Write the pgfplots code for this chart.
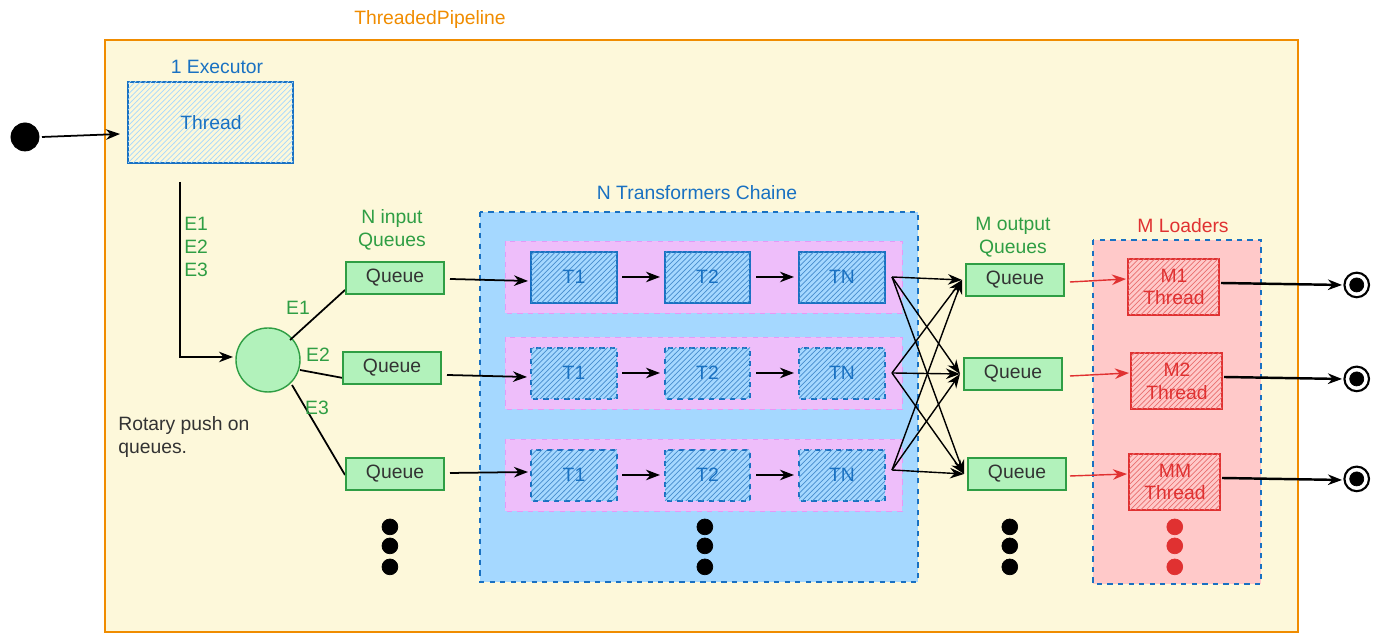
\documentclass[border=0pt]{standalone}
\usepackage{pgfplots}
\pgfplotsset{compat=1.18}
\usepackage{fontspec}
\setmainfont{Liberation Sans}
\usetikzlibrary{patterns,arrows.meta}
\definecolor{bgy}{HTML}{FDF8DA}
\definecolor{org}{HTML}{F08C00}
\definecolor{blu}{HTML}{1971C2}
\definecolor{lblu}{HTML}{A5D8FF}
\definecolor{grn}{HTML}{2F9E44}
\definecolor{lgrn}{HTML}{B2F2BB}
\definecolor{pnk}{HTML}{E599F7}
\definecolor{lpnk}{HTML}{EEBEFA}
\definecolor{red1}{HTML}{E03131}
\definecolor{lred}{HTML}{FFC9C9}
\begin{document}
\begin{tikzpicture}[font=\fontsize{11}{13}\selectfont, >={Stealth[length=8pt]}]
\begin{scope}[x=0.02cm, y=-0.02cm, yshift=12.88cm]
\path (0,0) rectangle (1384,644);
\draw[org, line width=1.2pt, fill=bgy] (105,40) rectangle (1298,632);
\node[org] at (430,20) {ThreadedPipeline};
\node[blu] at (217,67) {1 Executor};
\draw[blu, line width=1pt, fill=bgy] (128,82) rectangle (293,163);
\fill[pattern=north east lines, pattern color=lblu] (128,82) rectangle (293,163);
\node[blu] at (211,123) {Thread};
\draw[black, line width=1pt, ->] (42,137) -- (120,134);
\draw[black, line width=1pt, ->] (180,182) -- (180,357) -- (233,357);
\node[grn, align=left, anchor=north west, inner sep=0pt] at (184,217) {E1\\E2\\E3};
\draw[grn, fill=lgrn, line width=0.8pt] (268,360) circle [radius=32];
\draw[black, line width=1pt] (290,340) -- (345,290);
\draw[black, line width=1pt] (300,370) -- (343,378);
\draw[black, line width=1pt] (292,385) -- (345,475);
\node[grn] at (298,308) {E1};
\node[grn] at (318,355) {E2};
\node[grn] at (317,408) {E3};
\node[black!80, align=left, anchor=north west, inner sep=0pt] at (118,416) {Rotary push on\\queues.};
\node[grn, align=center] at (392,230) {N input\\Queues};
\foreach \x/\y in {346/262, 343/352, 346/458}{
  \draw[grn, fill=lgrn, line width=1pt] (\x,\y) rectangle (\x+98,\y+32);
  \node[black!80] at (\x+49,\y+16) {Queue};}
\draw[blu, dashed, fill=lblu, line width=0.8pt] (480,212) rectangle (918,582);
\node[blu] at (697,193) {N Transformers Chaine};
\foreach \r/\s in {0/solid, 96/dashed, 198/dashed}{
  \draw[pnk, dashed, fill=lpnk] (505,241+\r) rectangle (902,313+\r);
  \foreach \a/\b/\t in {531/617/T1, 665/750/T2, 799/885/TN}{
    \draw[blu, \s, line width=1.2pt, fill=lblu] (\a,252+\r) rectangle (\b,303+\r);
    \fill[pattern=north east lines, pattern color=blu!80] (\a,252+\r) rectangle (\b,303+\r);
    \node[blu] at ({(\a+\b)/2},277+\r) {\t};}
  \draw[black, line width=1pt, ->] (622,277+\r) -- (660,277+\r);
  \draw[black, line width=1pt, ->] (756,277+\r) -- (794,277+\r);
}
\draw[black, line width=1pt, ->] (450,279) -- (528,281);
\draw[black, line width=1pt, ->] (447,375) -- (527,377);
\draw[black, line width=1pt, ->] (450,473) -- (528,472);
\foreach \ty in {277,373,470}{
  \foreach \qx/\qy in {962/280, 960/374, 964/474}{
    \draw[black, line width=0.8pt, ->] (892,\ty) -- (\qx,\qy);}}
\node[grn, align=center] at (1013,237) {M output\\Queues};
\foreach \x/\y in {966/264, 964/358, 968/458}{
  \draw[grn, fill=lgrn, line width=1pt] (\x,\y) rectangle (\x+98,\y+32);
  \node[black!80] at (\x+49,\y+16) {Queue};}
\draw[blu, dashed, fill=lred, line width=0.8pt] (1093,240) rectangle (1261,584);
\node[red1] at (1183,226) {M Loaders};
\foreach \x/\y/\t/\qy in {1128/259/M1/282, 1131/353/M2/376, 1129/454/MM/476}{
  \draw[red1, line width=1pt, fill=lred] (\x,\y) rectangle (\x+91,\y+56);
  \fill[pattern=north east lines, pattern color=red1!70] (\x,\y) rectangle (\x+91,\y+56);
  \node[red1, align=center] at (\x+46,\y+28) {\t\\Thread};
  \draw[red1, line width=0.8pt, ->] (1070,\qy) -- (\x-2,\y+20);
  \draw[black, line width=1.4pt, ->] (\x+93,\y+24) -- (1342,\y+26);
}
\end{scope}
\begin{axis}[scale only axis, width=27.68cm, height=12.88cm, xmin=0,xmax=1384,ymin=0,ymax=644, y dir=reverse, hide axis, clip=false]
\addplot[only marks, mark=*, mark size=4.5pt, black] coordinates {(390,527)(390,546)(390,567)(705,527)(705,546)(705,567)(1010,527)(1010,546)(1010,567)};
\addplot[only marks, mark=*, mark size=4.5pt, red1] coordinates {(1175,527)(1175,546)(1175,567)};
\addplot[only marks, mark=o, mark size=7pt, black, line width=1.2pt] coordinates {(1357,285)(1357,379)(1357,479)};
\addplot[only marks, mark=*, mark size=4pt, black] coordinates {(1357,285)(1357,379)(1357,479)};
\addplot[only marks, mark=*, mark size=8pt, black] coordinates {(25,137)};
\end{axis}
\end{tikzpicture}
\end{document}
